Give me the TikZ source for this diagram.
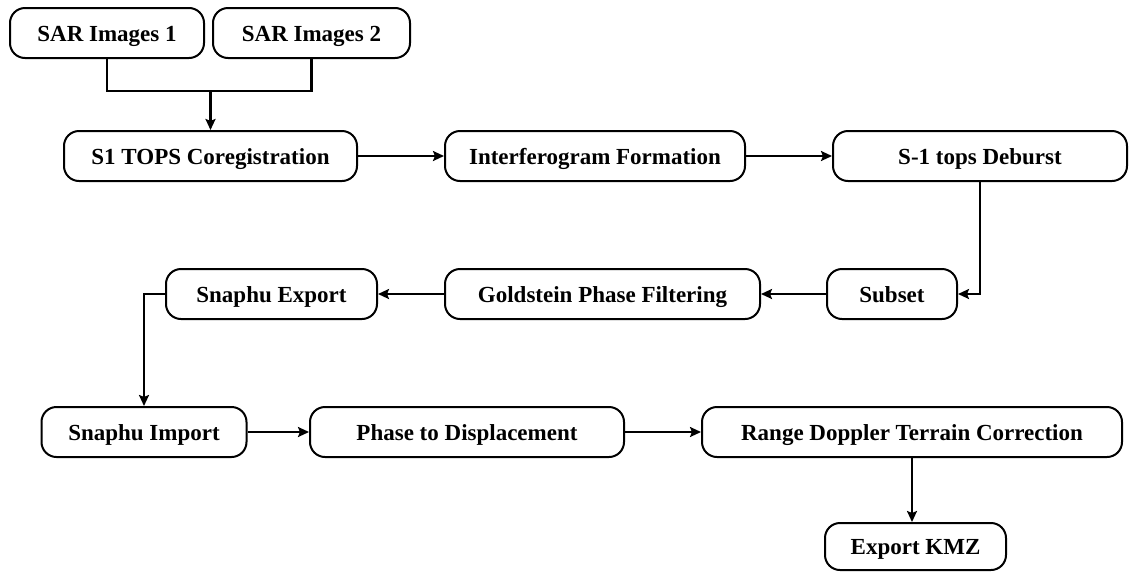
\documentclass[tikz,border=0pt]{standalone}
\usepackage{fontspec}
\setmainfont{Liberation Serif}
\usepackage{tikz}
\usetikzlibrary{positioning,calc}
\usetikzlibrary{arrows.meta}
\tikzset{
  box/.style={draw=black,fill=white,line width=2pt,rounded corners=15pt,
    minimum height=50pt,inner sep=0pt,text height=16pt,text depth=0pt,
    font=\fontsize{23}{27}\selectfont\bfseries},
  wire/.style={draw=black,line width=2.2pt},
  flow/.style={wire,-{Stealth[length=11pt,width=10pt,inset=2pt]}},
}

\begin{document}
\begin{tikzpicture}[x=1pt,y=-1pt]
\useasboundingbox (0,0) rectangle (1130,571);
\node[box,minimum width=194pt] (sar1) at (107,33) {SAR Images 1};
\node[box,minimum width=197pt] (sar2) at (311.5,33) {SAR Images 2};
\node[box,minimum width=293pt] (coreg) at (210.5,156) {S1 TOPS Coregistration};
\node[box,minimum width=300pt] (interf) at (595,156) {Interferogram Formation};
\node[box,minimum width=294pt] (deburst) at (980,156) {S-1 tops Deburst};
\node[box,minimum width=130pt] (subset) at (892,294) {Subset};
\node[box,minimum width=315pt] (gold) at (602.5,294) {Goldstein Phase Filtering};
\node[box,minimum width=211pt] (snexp) at (271.5,294) {Snaphu Export};
\node[box,minimum width=205pt] (snimp) at (144,432) {Snaphu Import};
\node[box,minimum width=314pt] (phase) at (467,432) {Phase to Displacement};
\node[box,minimum width=420pt] (rdtc) at (912,432) {Range Doppler Terrain Correction};
\node[box,minimum width=181pt,minimum height=47pt] (kmz) at (915.5,546.5) {Export KMZ};
\coordinate (join) at (coreg.north |- 0,91);
% merge of the two inputs
\draw[wire] (sar1.south) |- (join) -| (sar2.south);
\draw[flow] (join) -- (coreg.north);
\draw[flow] (coreg.east) -- (interf.west);
\draw[flow] (interf.east) -- (deburst.west);
\draw[flow] (deburst.south) |- (subset.east);
\draw[flow] (subset.west) -- (gold.east);
\draw[flow] (gold.west) -- (snexp.east);
\draw[flow] (snexp.west) -| (snimp.north);
\draw[flow] (snimp.east) -- (phase.west);
\draw[flow] (phase.east) -- (rdtc.west);
\draw[flow] (rdtc.south) -- (rdtc.south |- kmz.north);
\end{tikzpicture}
\end{document}
